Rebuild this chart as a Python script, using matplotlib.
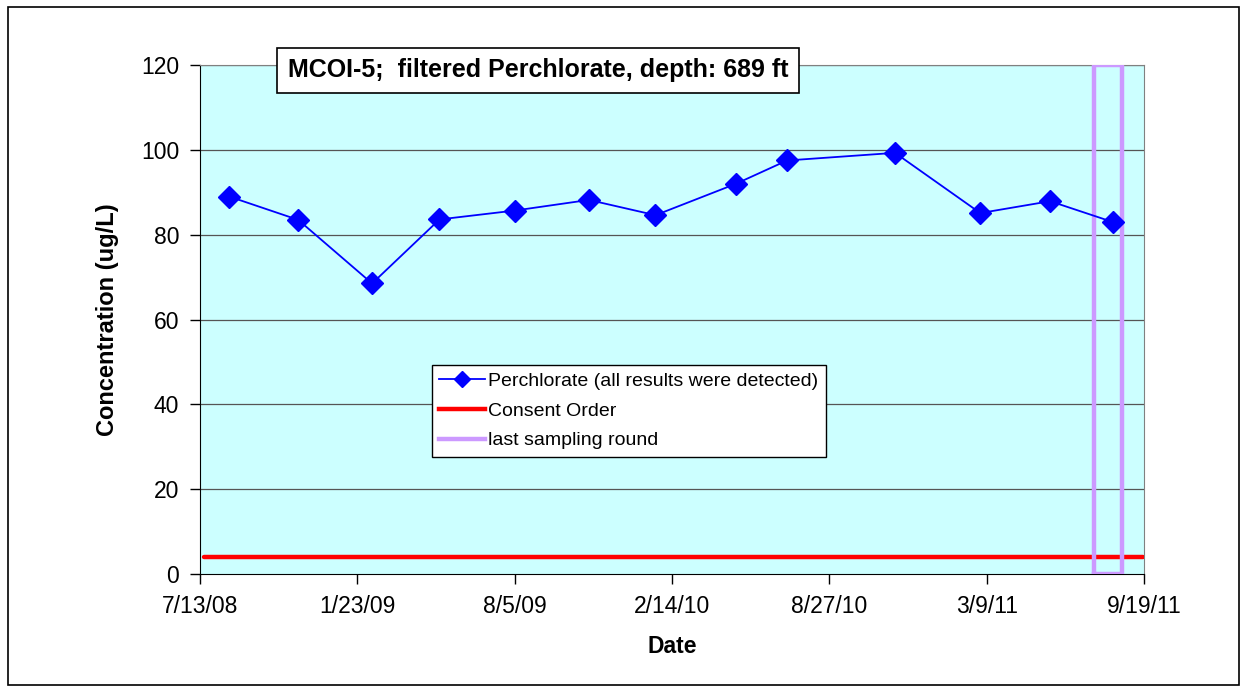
import datetime
import matplotlib
matplotlib.use('Agg')
import matplotlib.pyplot as plt
import matplotlib.dates as mdates
from matplotlib.lines import Line2D
from matplotlib.patches import Rectangle

plt.rcParams['font.family'] = ['Liberation Sans', 'DejaVu Sans']

# sample dates and perchlorate results (ug/L)
sample_dates = ['2008-08-18', '2008-11-11', '2009-02-10', '2009-05-04', '2009-08-05',
                '2009-11-04', '2010-01-25', '2010-05-04', '2010-07-06', '2010-11-16',
                '2011-03-01', '2011-05-26', '2011-08-11']
perchlorate = [89.0, 83.5, 68.5, 83.6, 85.7, 88.2, 84.6, 92.0, 97.5, 99.3, 85.1, 87.9, 83.0]

# consent order limit
consent_dates = ['2008-07-18', '2011-09-17']
consent_values = [4, 4]

# last sampling round box
last_round_dates = ['2011-07-19', '2011-07-19', '2011-08-22', '2011-08-22', '2011-07-19']
last_round_values = [0, 120, 120, 0, 0]

tick_dates = ['2008-07-13', '2009-01-23', '2009-08-05', '2010-02-14',
              '2010-08-27', '2011-03-09', '2011-09-19']
tick_labels = ['7/13/08', '1/23/09', '8/5/09', '2/14/10', '8/27/10', '3/9/11', '9/19/11']
y_ticks = [0, 20, 40, 60, 80, 100, 120]


def to_num(lst):
    return [mdates.date2num(datetime.datetime.strptime(d, '%Y-%m-%d')) for d in lst]


fig = plt.figure(figsize=(12.52, 6.92), dpi=100)
fig.patches.append(Rectangle((0.006, 0.01), 0.984, 0.98, transform=fig.transFigure,
                             fill=False, edgecolor='black', linewidth=1.2))
ax = fig.add_axes([0.1597, 0.1705, 0.7543, 0.7355])
ax.set_facecolor('#CCFFFF')

for yv in y_ticks[1:]:
    ax.axhline(yv, color='#555555', linewidth=0.9, zorder=1)

ax.plot(to_num(consent_dates), consent_values, color='#FF0000', linewidth=3.2,
        solid_capstyle='round', zorder=3)
ax.plot(to_num(last_round_dates), last_round_values, color='#CC99FF', linewidth=3.2,
        solid_joinstyle='round', zorder=4)
ax.plot(to_num(sample_dates), perchlorate, color='#0000FF', linewidth=1.3,
        marker='D', markersize=11, markerfacecolor='#0000FF', markeredgecolor='#0000FF', zorder=5)

xt = to_num(tick_dates)
ax.set_xlim(xt[0], xt[-1])
ax.set_ylim(0, 120)
ax.set_xticks(xt)
ax.set_xticklabels(tick_labels)
ax.set_yticks(y_ticks)
ax.tick_params(axis='both', labelsize=16.5, direction='out', length=7, width=1, color='black', pad=8)

for s in ['top', 'right']:
    ax.spines[s].set_color('#808080')
for s in ['left', 'bottom']:
    ax.spines[s].set_color('black')

ax.set_xlabel('Date', fontsize=16.5, fontweight='bold', labelpad=12)
ax.set_ylabel('Concentration (ug/L)', fontsize=17, fontweight='bold', labelpad=16)

ax.text(0.358, 0.99, 'MCOI-5;  filtered Perchlorate, depth: 689 ft', transform=ax.transAxes,
        ha='center', va='center', fontsize=18, fontweight='bold', zorder=10,
        bbox=dict(boxstyle='square,pad=0.42', facecolor='white', edgecolor='black', linewidth=1.2))

handles = [
    Line2D([], [], color='#0000FF', linewidth=1.3, marker='D', markersize=8),
    Line2D([], [], color='#FF0000', linewidth=3.2),
    Line2D([], [], color='#CC99FF', linewidth=3.2),
]
labels = ['Perchlorate (all results were detected)', 'Consent Order', 'last sampling round']
leg = ax.legend(handles, labels, loc='upper left', bbox_to_anchor=(0.2458, 0.4106),
                borderaxespad=0, fontsize=14, handlelength=2.35, handletextpad=0.15,
                fancybox=False, framealpha=1, edgecolor='black', labelspacing=0.62,
                borderpad=0.38)
leg.get_frame().set_linewidth(1.0)
leg.set_zorder(10)

fig.savefig('out.png', dpi=100)
